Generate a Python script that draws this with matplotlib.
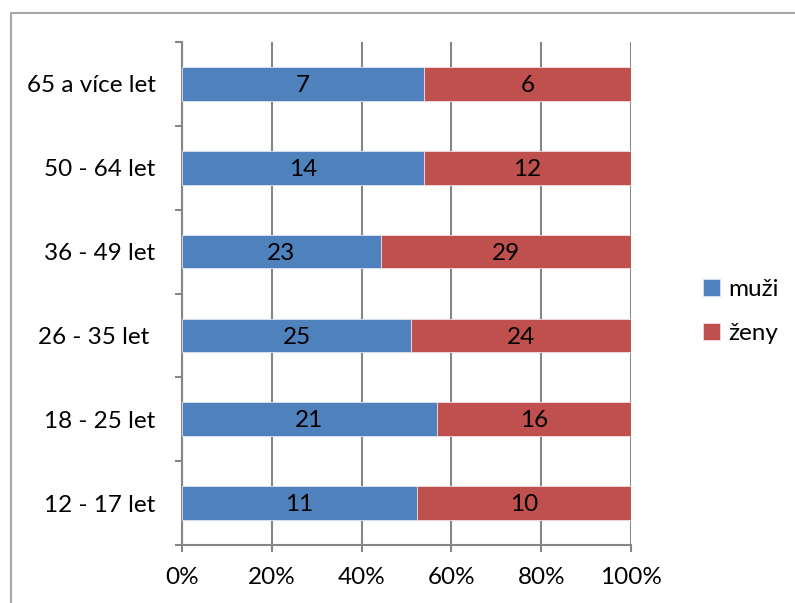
import matplotlib
matplotlib.use("Agg")
import matplotlib.pyplot as plt
from matplotlib.patches import Rectangle
import numpy as np

categories = ["12 - 17 let", "18 - 25 let", "26 - 35 let ", "36 - 49 let", "50 - 64 let", "65 a více let"]
muzi = [11, 21, 25, 23, 14, 7]
zeny = [10, 16, 24, 29, 12, 6]
series_names = ["muži", "ženy"]
xtick_labels = ["0%", "20%", "40%", "60%", "80%", "100%"]

blue = "#4F81BD"
red = "#C0504D"
grid_col = "#868686"

plt.rcParams["font.family"] = ["Lato", "DejaVu Sans"]
FS = 17.5

fig = plt.figure(figsize=(7.95, 6.03), dpi=100)
ax = fig.add_axes([182 / 795, 1 - 545 / 603, (631 - 182) / 795, (545 - 42) / 603])

m = np.array(muzi, dtype=float)
z = np.array(zeny, dtype=float)
tot = m + z
mp = m / tot * 100
zp = z / tot * 100
y = np.arange(len(categories))

h = 0.4
b1 = ax.barh(y, mp, height=h, color=blue, edgecolor="#dbe4f0", linewidth=0.6, label=series_names[0], zorder=3)
b2 = ax.barh(y, zp, left=mp, height=h, color=red, edgecolor="#f0dcdc", linewidth=0.6, label=series_names[1], zorder=3)

for i in range(len(categories)):
    ax.text(mp[i] / 2, y[i] - 0.02, str(muzi[i]), ha="center", va="center", fontsize=FS, color="black", zorder=4)
    ax.text(mp[i] + zp[i] / 2, y[i] - 0.02, str(zeny[i]), ha="center", va="center", fontsize=FS, color="black", zorder=4)

ax.set_xlim(0, 100)
ax.set_ylim(-0.5, len(categories) - 0.5)
ax.set_xticks(np.arange(0, 101, 20))
ax.set_xticklabels(xtick_labels, fontsize=FS)
ax.set_yticks(y)
ax.set_yticklabels(categories, fontsize=FS)
ax.set_yticks(np.arange(-0.5, len(categories), 1), minor=True)
ax.tick_params(axis="y", which="major", length=0, pad=19)
ax.tick_params(axis="y", which="minor", length=5, width=1.5, color=grid_col, direction="out")
ax.tick_params(axis="x", which="major", length=5, width=1.5, color=grid_col, direction="out", pad=11)

ax.grid(axis="x", color=grid_col, linewidth=1.5, zorder=0)
ax.set_axisbelow(True)
for s in ["top", "right"]:
    ax.spines[s].set_visible(False)
for s in ["left", "bottom"]:
    ax.spines[s].set_color(grid_col)
    ax.spines[s].set_linewidth(1.5)

leg = fig.legend(handles=[b1, b2], labels=series_names, loc="upper left",
                 bbox_to_anchor=(693 / 795, 1 - 269 / 603), frameon=False,
                 fontsize=FS, handlelength=0.7, handleheight=0.7, handletextpad=0.35,
                 labelspacing=0.95, borderaxespad=0)

fig.patches.append(Rectangle((10.5 / 795, -0.1), 1.2, 1 - 12.5 / 603 + 0.1,
                             transform=fig.transFigure, fill=False,
                             edgecolor="#a6a6a6", linewidth=1.5))

fig.savefig("out.png", dpi=100)
